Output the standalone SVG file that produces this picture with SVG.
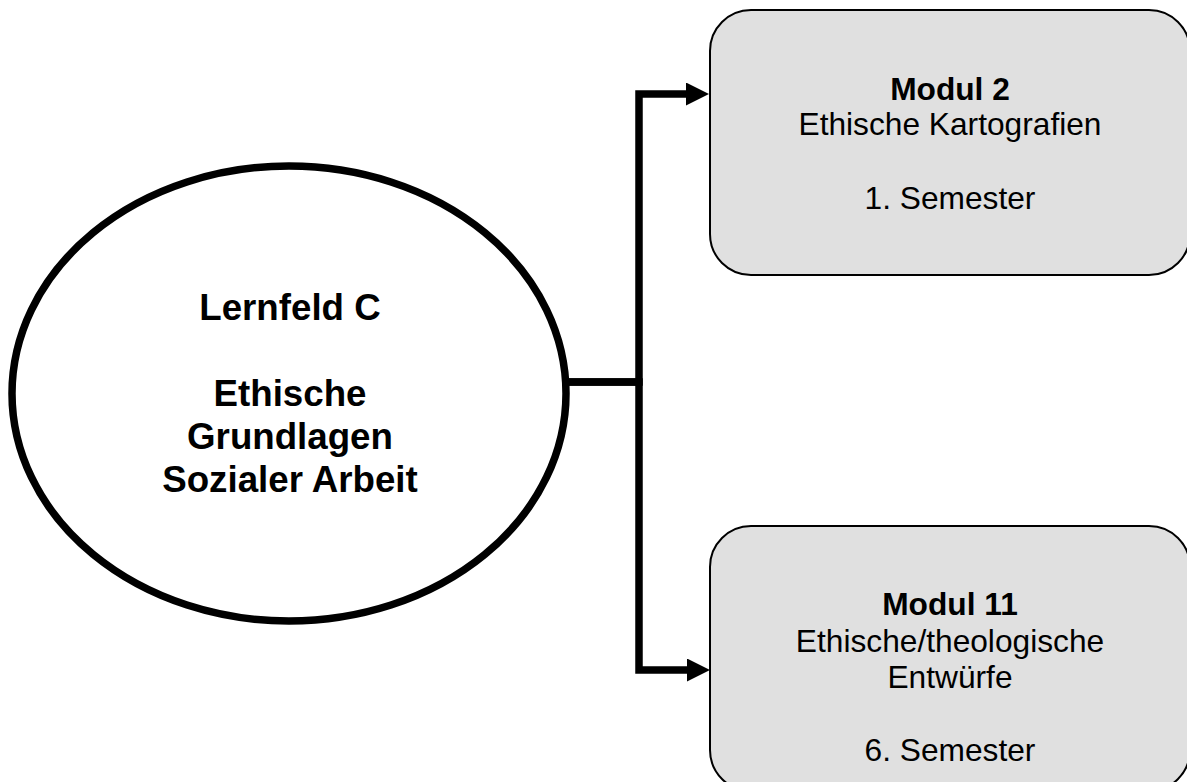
<svg xmlns="http://www.w3.org/2000/svg" width="1187" height="782" viewBox="0 0 1187 782">
  <style>
    .box { fill: #e0e0e0; stroke: #000; stroke-width: 2; }
    .ell { fill: #fff; stroke: #000; stroke-width: 7.5; }
    .conn { fill: none; stroke: #000; stroke-width: 7.5; stroke-linejoin: miter; stroke-linecap: butt; }
    .t { font-family: "Liberation Sans", Arial, sans-serif; font-size: 31.7px; fill: #000; text-anchor: middle; }
    .b { font-weight: bold; }
    .et { font-family: "Liberation Sans", Arial, sans-serif; font-size: 36.7px; font-weight: bold; fill: #000; text-anchor: middle; }
  </style>
  <defs>
    <marker id="arrow" viewBox="0 0 23 23" markerWidth="23" markerHeight="23" markerUnits="userSpaceOnUse" refX="0" refY="11.5" orient="auto">
      <path d="M0,0 L23,11.5 L0,23 Z" fill="#000"/>
    </marker>
  </defs>
  <rect width="1187" height="782" fill="#fff"/>
  <g id="connectors">
    <path class="conn" d="M566,382 H639 V94 H686" marker-end="url(#arrow)"/>
    <path class="conn" d="M566,382 H639 V670 H687" marker-end="url(#arrow)"/>
  </g>
  <g id="lernfeld">
    <ellipse class="ell" cx="289" cy="393.5" rx="277" ry="227.5"/>
    <text class="et" x="290" y="320">Lernfeld C</text>
    <text class="et" x="290" y="406">Ethische</text>
    <text class="et" x="290" y="449">Grundlagen</text>
    <text class="et" x="290" y="492">Sozialer Arbeit</text>
  </g>
  <g id="modul2">
    <rect class="box" x="710" y="10" width="480" height="265" rx="41" ry="41"/>
    <text class="t b" x="950" y="100">Modul 2</text>
    <text class="t" x="950" y="135">Ethische Kartografien</text>
    <text class="t" x="950" y="209">1. Semester</text>
  </g>
  <g id="modul11">
    <rect class="box" x="710" y="526" width="480" height="265" rx="41" ry="41"/>
    <text class="t b" x="950" y="615">Modul 11</text>
    <text class="t" x="950" y="651.5">Ethische/theologische</text>
    <text class="t" x="950" y="688">Entwürfe</text>
    <text class="t" x="950" y="761">6. Semester</text>
  </g>
</svg>
